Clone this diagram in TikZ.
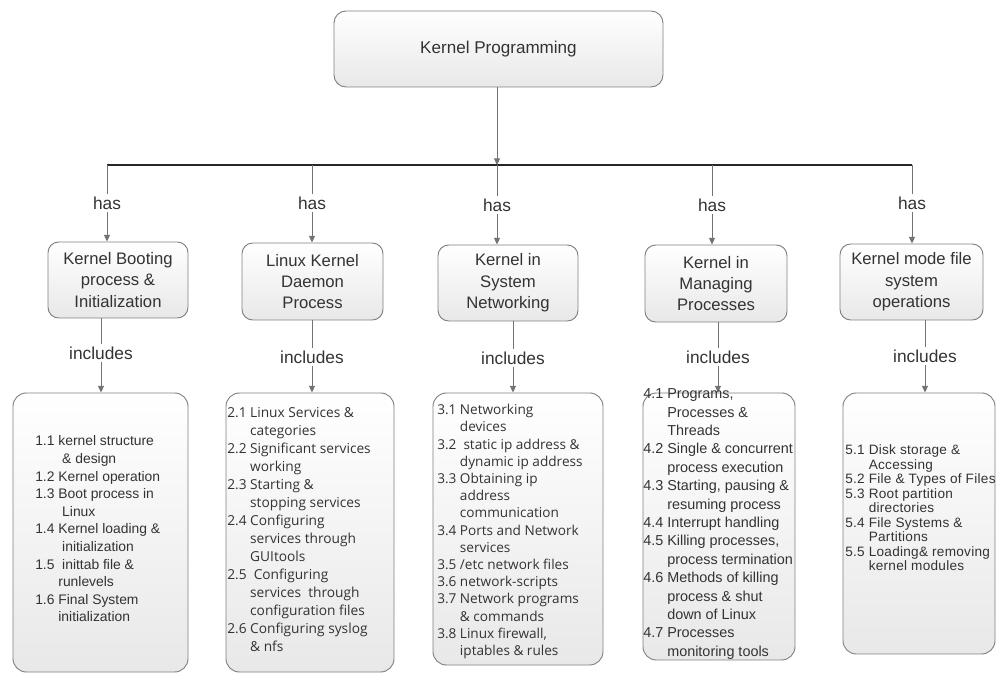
\documentclass[tikz,border=0pt]{standalone}
\usepackage{fontspec}
\setmainfont{Liberation Sans}
\newfontfamily\uisans{Open Sans}
\newfontfamily\widesans[LetterSpace=2]{Liberation Sans}
\usetikzlibrary{arrows.meta}
\newcommand{\subline}{\hphantom{0.0 }}

\begin{document}
\begin{tikzpicture}[x=.75pt,y=-.75pt,>={Triangle[length=5pt,width=4.5pt]},every node/.style={text=black!80},
 link/.style={draw=black!55,line width=.7pt},bar/.style={draw=black!85,line width=1.6pt},
 boxsize/.style 2 args={minimum width=#1*.75pt,minimum height=#2*.75pt},
 shadebox/.style={draw=black!50,line width=.7pt,top color=white,bottom color=black!9,inner sep=0pt},
 topbox/.style={shadebox,rounded corners=9pt,font=\fontsize{12.8}{15}\selectfont},
 midbox/.style={shadebox,rounded corners=8pt,align=center,font=\fontsize{12.5}{16}\selectfont},
 listbox/.style={shadebox,rounded corners=10pt},
 listtext/.style={anchor=west,align=left,inner sep=0pt},
 lbl/.style={font=\fontsize{13}{15}\selectfont,inner sep=2pt}]
\useasboundingbox (0,0) rectangle (997,673);
% root and bar
\node[topbox,boxsize={329}{76}] (kp) at (498.5,49) {Kernel Programming};
\coordinate (bl) at (107,165);\coordinate (br) at (912,165);\coordinate (bm) at (497,165);
\draw[bar] (bl)--(br);\draw[link,->] (kp.south -| bm)--(bm);
% second level
\node[midbox,boxsize={140}{76}] (k1) at (118,280) {Kernel Booting\\process \&\\Initialization};
\node[midbox,boxsize={141}{77}] (k2) at (312.5,281.5) {Linux Kernel\\Daemon\\Process};
\node[midbox,boxsize={140}{76}] (k3) at (508,283) {Kernel in\\System\\Networking};
\node[midbox,boxsize={142}{77}] (k4) at (716,283.5) {Kernel in\\Managing\\Processes};
\node[midbox,boxsize={143}{76}] (k5) at (911.5,282) {Kernel mode file\\system\\operations};
\node[lbl] (h1) at (107,203) {has};\draw[link] (h1 |- bl)--(h1);\draw[link,->] (h1)--(h1 |- k1.north);
\node[lbl] (h2) at (312,203) {has};\draw[link] (h2 |- bl)--(h2);\draw[link,->] (h2)--(h2 |- k2.north);
\node[lbl] (h3) at (497,205) {has};\draw[link] (h3 |- bl)--(h3);\draw[link,->] (h3)--(h3 |- k3.north);
\node[lbl] (h4) at (712,205) {has};\draw[link] (h4 |- bl)--(h4);\draw[link,->] (h4)--(h4 |- k4.north);
\node[lbl] (h5) at (912,203) {has};\draw[link] (h5 |- br)--(h5);\draw[link,->] (h5)--(h5 |- k5.north);
% lists
\node[listbox,boxsize={175}{279}] (b1) at (100.5,532.5) {};
\node[listbox,boxsize={168}{279}] (b2) at (310,532.5) {};
\node[listbox,boxsize={170}{272}] (b3) at (518,529) {};
\node[listbox,boxsize={152}{267}] (b4) at (719,526.5) {};
\node[listbox,boxsize={152}{261}] (b5) at (919,523.5) {};
\node[lbl] (i1) at (101,353) {includes};\draw[link] (i1 |- k1.south)--(i1);\draw[link,->] (i1)--(i1 |- b1.north);
\node[lbl] (i2) at (312,357) {includes};\draw[link] (i2 |- k2.south)--(i2);\draw[link,->] (i2)--(i2 |- b2.north);
\node[lbl] (i3) at (513,358) {includes};\draw[link] (i3 |- k3.south)--(i3);\draw[link,->] (i3)--(i3 |- b3.north);
\node[lbl] (i4) at (718,357) {includes};\draw[link] (i4 |- k4.south)--(i4);\draw[link,->] (i4)--(i4 |- b4.north);
\node[lbl] (i5) at (925,356) {includes};\draw[link] (i5 |- k5.south)--(i5);\draw[link,->] (i5)--(i5 |- b5.north);
\node[listtext,font=\fontsize{10.4}{13.2}\selectfont] (t1) at (35,529) {1.1 kernel structure\\\subline\ \& design\\1.2 Kernel operation\\1.3 Boot process in\\\subline\ Linux\\1.4 Kernel loading \&\\\subline\ initialization\\1.5 \ inittab file \&\\\subline runlevels\\1.6 Final System\\\subline initialization};
\node[listtext,font=\uisans\fontsize{10.3}{13.5}\selectfont] (t2) at (227,530) {2.1 Linux Services \&\\\subline categories\\2.2 Significant services\\\subline working\\2.3 Starting \&\\\subline stopping services\\2.4 Configuring\\\subline services through\\\subline GUItools\\2.5 \ Configuring\\\subline services \ through\\\subline configuration files\\2.6 Configuring syslog\\\subline \& nfs};
\node[listtext,font=\uisans\fontsize{10.2}{12.9}\selectfont] (t3) at (437,531.5) {3.1 Networking\\\subline devices\\3.2 \ static ip address \&\\\subline dynamic ip address\\3.3 Obtaining ip\\\subline address\\\subline communication\\3.4 Ports and Network\\\subline services\\3.5 /etc network files\\3.6 network-scripts\\3.7 Network programs\\\subline \& commands\\3.8 Linux firewall,\\\subline iptables \& rules};
\node[listtext,font=\fontsize{10.8}{13.8}\selectfont] (t4) at (643,524) {4.1 Programs,\\\subline Processes \&\\\subline Threads\\4.2 Single \& concurrent\\\subline process execution\\4.3 Starting, pausing \&\\\subline resuming process\\4.4 Interrupt handling\\4.5 Killing processes,\\\subline process termination\\4.6 Methods of killing\\\subline process \& shut\\\subline down of Linux\\4.7 Processes\\\subline monitoring tools};
\node[listtext,font=\widesans\fontsize{10.2}{10.9}\selectfont] (t5) at (845,508) {5.1 Disk storage \&\\\subline Accessing\\5.2 File \& Types of Files\\5.3 Root partition\\\subline directories\\5.4 File Systems \&\\\subline Partitions\\5.5 Loading\& removing\\\subline kernel modules};
\end{tikzpicture}
\end{document}
